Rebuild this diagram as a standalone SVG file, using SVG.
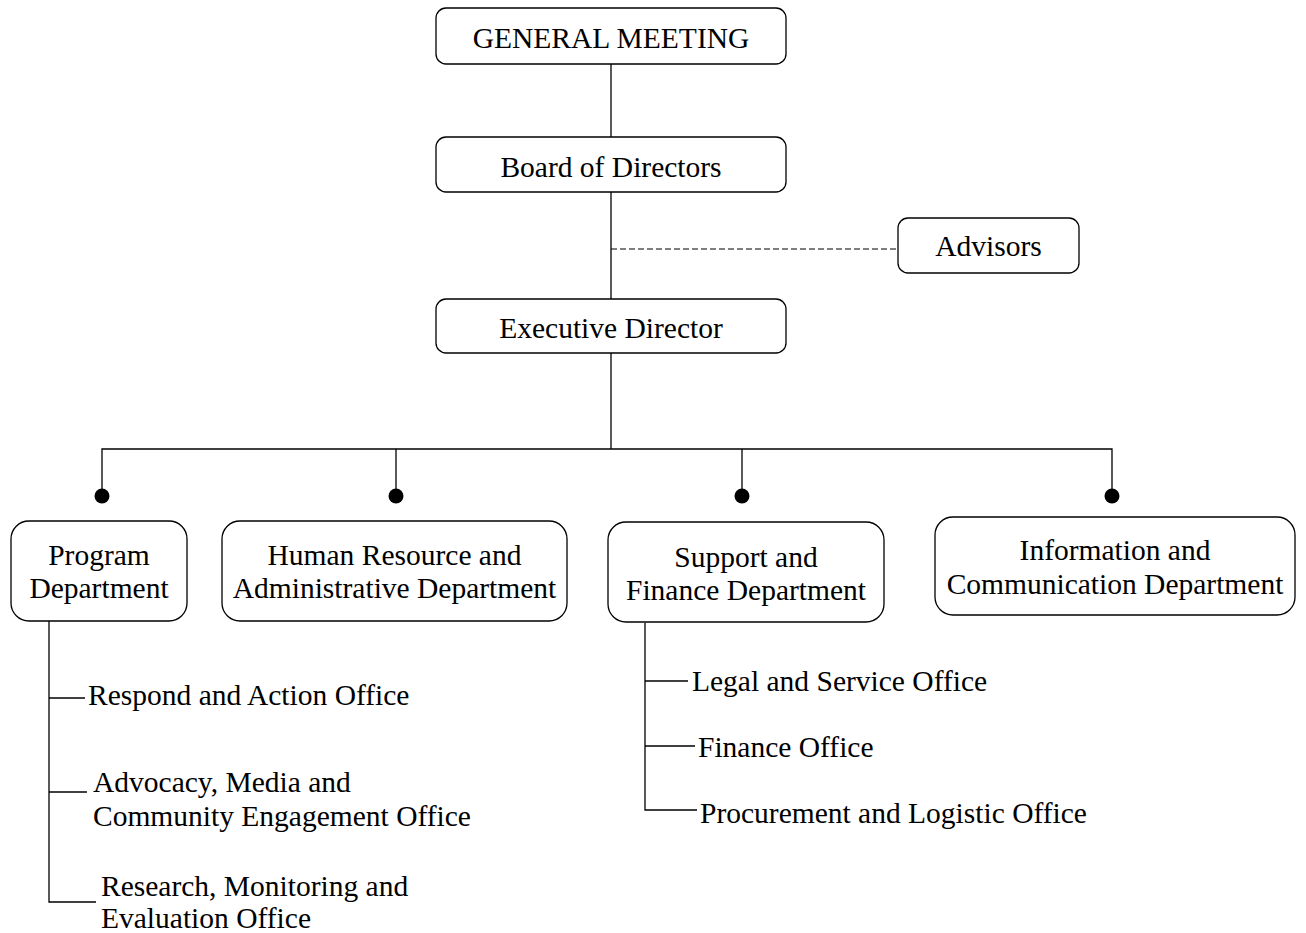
<svg xmlns="http://www.w3.org/2000/svg" width="1306" height="933" viewBox="0 0 1306 933">
<style>
.box{fill:#fff;stroke:#000;stroke-width:1.3}
.ln{fill:none;stroke:#000;stroke-width:1.3}
.dash{fill:none;stroke:#000;stroke-width:1.2;stroke-dasharray:6 3}
text{font-family:"Liberation Serif","Times New Roman",serif;font-size:29.5px;fill:#000}
.c{text-anchor:middle}
</style>
<rect width="1306" height="933" fill="#fff"/>
<g id="connectors">
<line class="ln" x1="611" y1="64" x2="611" y2="137"/>
<line class="ln" x1="611" y1="192" x2="611" y2="299"/>
<line class="dash" x1="611" y1="249" x2="898" y2="249"/>
<line class="ln" x1="611" y1="353" x2="611" y2="449"/>
<polyline class="ln" points="102,490 102,449 1112,449 1112,490"/>
<line class="ln" x1="396" y1="449" x2="396" y2="490"/>
<line class="ln" x1="742" y1="449" x2="742" y2="490"/>
<circle cx="102" cy="496" r="7.5"/>
<circle cx="396" cy="496" r="7.5"/>
<circle cx="742" cy="496" r="7.5"/>
<circle cx="1112" cy="496" r="7.5"/>
<polyline class="ln" points="49,621 49,902 96,902"/>
<line class="ln" x1="49" y1="698" x2="85" y2="698"/>
<line class="ln" x1="49" y1="792" x2="87" y2="792"/>
<polyline class="ln" points="645,623 645,810 697,810"/>
<line class="ln" x1="645" y1="681" x2="688" y2="681"/>
<line class="ln" x1="645" y1="746" x2="695" y2="746"/>
</g>
<g id="general-meeting">
<rect class="box" x="436" y="8" width="350" height="56" rx="10"/>
<text class="c" x="611" y="48">GENERAL MEETING</text>
</g>
<g id="board">
<rect class="box" x="436" y="137" width="350" height="55" rx="10"/>
<text class="c" x="611" y="177">Board of Directors</text>
</g>
<g id="advisors">
<rect class="box" x="898" y="218" width="181" height="55" rx="10"/>
<text class="c" x="988.5" y="256">Advisors</text>
</g>
<g id="executive-director">
<rect class="box" x="436" y="299" width="350" height="54" rx="10"/>
<text class="c" x="611" y="338">Executive Director</text>
</g>
<g id="program-department">
<rect class="box" x="11" y="521" width="176" height="100" rx="18"/>
<text class="c" x="99" y="565">Program</text>
<text class="c" x="99" y="598">Department</text>
</g>
<g id="hr-department">
<rect class="box" x="222" y="521" width="345" height="100" rx="18"/>
<text class="c" x="394.5" y="565">Human Resource and</text>
<text class="c" x="394.5" y="598">Administrative Department</text>
</g>
<g id="support-department">
<rect class="box" x="608" y="522" width="276" height="100" rx="18"/>
<text class="c" x="746" y="567">Support and</text>
<text class="c" x="746" y="600">Finance Department</text>
</g>
<g id="info-department">
<rect class="box" x="935" y="517" width="360" height="98" rx="18"/>
<text class="c" x="1115" y="560">Information and</text>
<text class="c" x="1115" y="594">Communication Department</text>
</g>
<g id="respond-office">
<text x="88" y="705">Respond and Action Office</text>
</g>
<g id="advocacy-office">
<text x="93" y="792">Advocacy, Media and</text>
<text x="93" y="826">Community Engagement Office</text>
</g>
<g id="research-office">
<text x="101" y="896">Research, Monitoring and</text>
<text x="101" y="928">Evaluation Office</text>
</g>
<g id="legal-office">
<text x="692" y="691">Legal and Service Office</text>
</g>
<g id="finance-office">
<text x="698" y="757">Finance Office</text>
</g>
<g id="procurement-office">
<text x="700" y="823">Procurement and Logistic Office</text>
</g>
</svg>
